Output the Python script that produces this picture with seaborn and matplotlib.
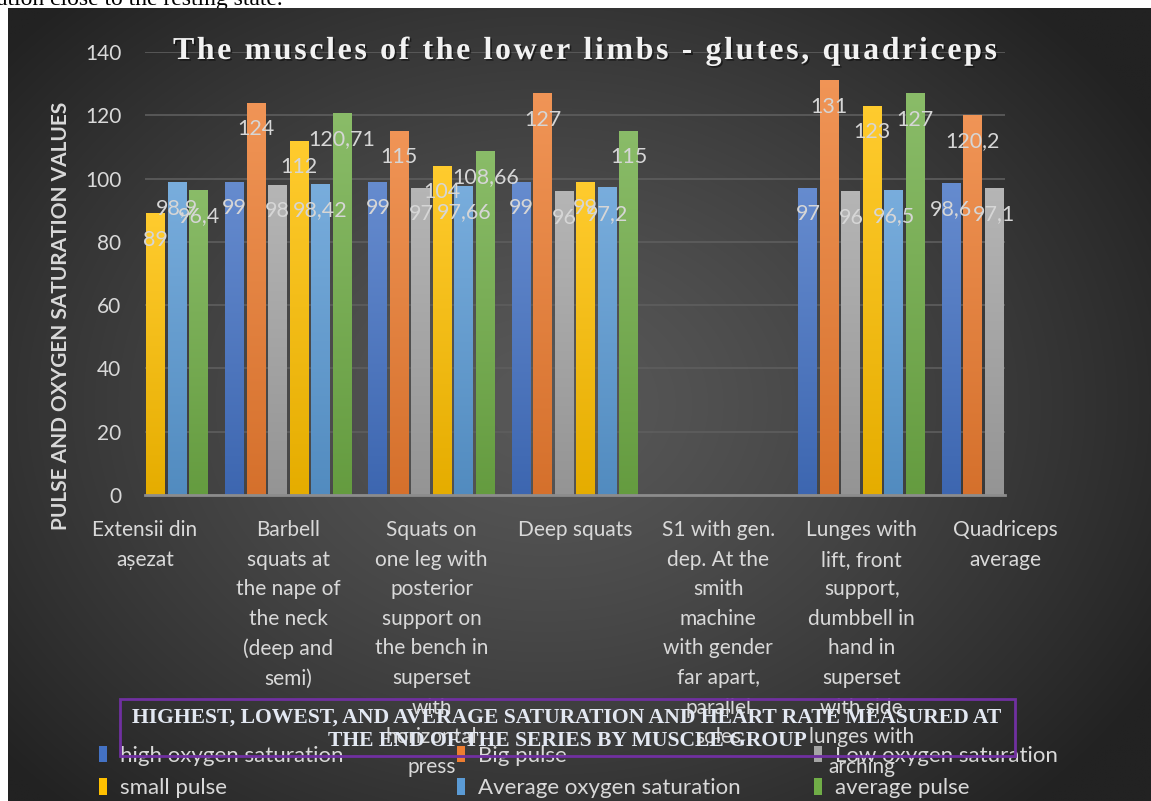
import numpy as np
import pandas as pd
import matplotlib
matplotlib.use("Agg")
import matplotlib.pyplot as plt
import seaborn as sns
from matplotlib.patches import Rectangle
from matplotlib.font_manager import FontProperties
from matplotlib.colors import to_rgb
import matplotlib.patheffects as pe

# ---------------- data ----------------
categories = [
    "Extensii din așezat",
    "Barbell squats at the nape of the neck (deep and semi)",
    "Squats on one leg with posterior support on the bench in superset with horizontal press",
    "Deep squats",
    "S1 with gen. dep. At the smith machine with gender far apart, parallel soles",
    "Lunges with lift, front support, dumbbell in hand in superset with side lunges with arching",
    "Quadriceps average",
]
tick_labels = [
    "Extensii din\nașezat",
    "Barbell\nsquats at\nthe nape of\nthe neck\n(deep and\nsemi)",
    "Squats on\none leg with\nposterior\nsupport on\nthe bench in\nsuperset\nwith\nhorizontal\npress",
    "Deep squats",
    "S1 with gen.\ndep. At the\nsmith\nmachine\nwith gender\nfar apart,\nparallel\nsoles",
    "Lunges with\nlift, front\nsupport,\ndumbbell in\nhand in\nsuperset\nwith side\nlunges with\narching",
    "Quadriceps\naverage",
]
series = ["high oxygen saturation", "Big pulse", "Low oxygen saturation",
          "small pulse", "Average oxygen saturation", "average pulse"]
nan = np.nan
high_oxygen_saturation = [nan, 99, 99, 99, nan, 97, 98.6]
big_pulse              = [nan, 124, 115, 127, nan, 131, 120.2]
low_oxygen_saturation  = [nan, 98, 97, 96, nan, 96, 97.1]
small_pulse            = [89, 112, 104, 99, nan, 123, nan]
average_oxygen_sat     = [98.9, 98.42, 97.66, 97.2, nan, 96.5, nan]
average_pulse          = [96.4, 120.71, 108.66, 115, nan, 127, nan]
values = [high_oxygen_saturation, big_pulse, low_oxygen_saturation,
          small_pulse, average_oxygen_sat, average_pulse]
colors = ["#4472C4", "#ED7D31", "#A5A5A5", "#FFC000", "#5B9BD5", "#70AD47"]

title = "The muscles of the lower limbs - glutes, quadriceps"
box_text = ("HIGHEST, LOWEST, AND AVERAGE SATURATION AND HEART RATE MEASURED AT\n"
            "THE END OF THE SERIES BY MUSCLE GROUP")
ylabel = "PULSE AND OXYGEN SATURATION VALUES"

rows = []
for s, vals in zip(series, values):
    for c, v in zip(categories, vals):
        rows.append({"category": c, "series": s, "value": v})
df = pd.DataFrame(rows)

# ---------------- figure ----------------
sns.set_theme(style="dark")
plt.rcParams["font.family"] = ["Lato", "DejaVu Sans"]
W, H = 1151, 801
fig = plt.figure(figsize=(W / 100, H / 100), dpi=100, facecolor="white")

# text of the page above the chart (cut off)
fig.text(-3 / W, 1 - 5 / H, "ation close to the resting state.", va="baseline", ha="left",
         family="Liberation Serif", fontsize=17, color="black", zorder=-20)

# dark radial background of the chart
bg = fig.add_axes([8 / W, 0, (W - 8) / W, (H - 8) / H], zorder=-10)
yy, xx = np.mgrid[0:1:400j, 0:1:600j]
r = np.sqrt(((xx - 0.47) / 0.62) ** 2 + ((yy - 0.5) / 0.70) ** 2)
r = np.clip(r, 0, 1)
g = (0x58 - (0x58 - 0x22) * r ** 1.3) / 255.0
bg.imshow(np.dstack([g, g, g]), aspect="auto", extent=[0, 1, 0, 1], interpolation="bilinear")
bg.set_axis_off()

ax = fig.add_axes([145 / W, (H - 495) / H, (1005 - 145) / W, (495 - 52) / H])
ax.set_facecolor("none")
sns.barplot(data=df, x="category", y="value", hue="series", order=categories,
            hue_order=series, palette=colors, width=0.9, gap=0.12,
            errorbar=None, saturation=1, ax=ax, legend=False, zorder=3,
            linewidth=0, edgecolor="none")

# vertical gradient fill inside each bar (lighter at the top)
for cont, col in zip(ax.containers, colors):
    base = np.array(to_rgb(col))
    top = base + (1 - base) * 0.18
    bot = base * 0.90
    t = np.linspace(0, 1, 64)[:, None]
    grad = (top[None, :] * (1 - t) + bot[None, :] * t)[:, None, :]
    for bar in cont:
        h = bar.get_height()
        if not np.isfinite(h) or h == 0:
            continue
        x0 = bar.get_x()
        im = ax.imshow(grad, extent=[x0, x0 + bar.get_width(), 0, h], aspect="auto",
                       interpolation="bilinear", zorder=3.1)
        im.set_clip_path(bar)

ax.set_xlim(0, 6)
ax.set_ylim(0, 140)
ax.set_aspect("auto")
ax.set_yticks(range(0, 141, 20))
ax.set_xticks(range(len(categories)))
ax.set_xticklabels(tick_labels, linespacing=1.6, ha="center", va="top",
                   multialignment="center")
ax.tick_params(axis="x", length=0, pad=18, labelsize=15, labelcolor="#D9D9D9")
ax.tick_params(axis="y", length=0, pad=17, labelsize=15, labelcolor="#D9D9D9")
ax.set_xlabel("")
ax.set_ylabel(ylabel, fontsize=15, fontweight="bold", color="#D9D9D9")
ax.yaxis.set_label_coords((61 - 145) / 860, (495 - 316) / 443)
ax.yaxis.label.set_va("center")
ax.yaxis.grid(True, color="#5E5E5E", lw=1.2, zorder=0)
ax.xaxis.grid(False)
for sp in ["left", "right", "top"]:
    ax.spines[sp].set_visible(False)
ax.spines["bottom"].set_color("#8C8C8C")
ax.spines["bottom"].set_linewidth(2)
ax.spines["bottom"].set_zorder(4)

# data labels (inside end)
for cont in ax.containers:
    for bar in cont:
        h = bar.get_height()
        if not np.isfinite(h) or h == 0:
            continue
        lab = f"{h:g}".replace(".", ",")
        ax.annotate(lab, (bar.get_x() + bar.get_width() / 2, h), xytext=(0, -19),
                    textcoords="offset points", ha="center", va="center",
                    fontsize=15.5, color="#D6D6D6", zorder=5, annotation_clip=False)

# title with slight letter spacing
fp = FontProperties(family="Liberation Serif", weight="bold", size=23)
renderer = fig.canvas.get_renderer()
widths = [renderer.get_text_width_height_descent(ch, fp, ismath=False)[0] for ch in title]
target = 997 - 173
spacing = max(0.0, (target - sum(widths)) / (len(title) - 1))
x = 173
for ch, w in zip(title, widths):
    fig.text(x, H - 59, ch, transform=None, fontproperties=fp, color="#F2F2F2",
             va="baseline", ha="left",
             path_effects=[pe.withSimplePatchShadow(offset=(1.2, -1.2), shadow_rgbFace="black",
                                                    alpha=0.5)])
    x += w + spacing

# boxed caption
fig.patches.append(Rectangle((120 / W, (H - 756) / H), (1015 - 120) / W, (756 - 699) / H,
                             transform=fig.transFigure, fill=False, edgecolor="#7030A0",
                             lw=2, zorder=6))
fig.text(567 / W, (H - 729) / H, box_text, ha="center", va="center",
         multialignment="center", family="Liberation Serif", fontweight="bold",
         fontsize=15.6, color="#E3E8F2", linespacing=1.22, zorder=7)

# legend, three columns of two rows
handles = [Rectangle((0, 0), 1, 1, facecolor=c, edgecolor="none") for c in colors]
col_x = [99, 457, 814]
for i in range(3):
    leg = fig.legend([handles[i], handles[i + 3]], [series[i], series[i + 3]],
                     loc="upper left", bbox_to_anchor=(col_x[i] / W, (H - 746) / H),
                     frameon=False, fontsize=16, handlelength=0.38, handleheight=0.75,
                     handletextpad=0.55, labelspacing=0.55, borderaxespad=0,
                     borderpad=0)
    for t in leg.get_texts():
        t.set_color("#D9D9D9")

fig.savefig("out.png", dpi=100, facecolor="white")
